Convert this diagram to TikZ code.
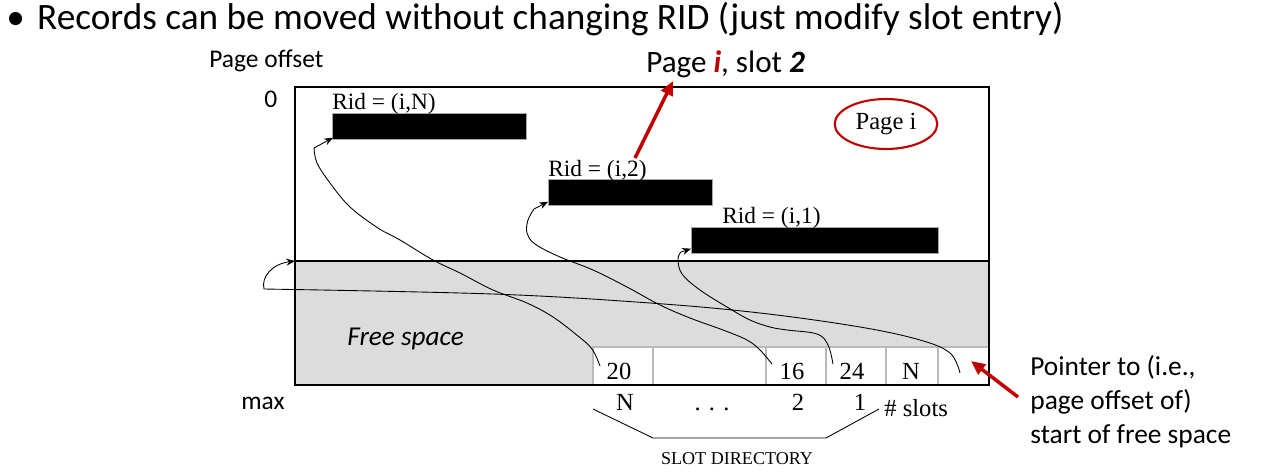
\documentclass[tikz,border=0pt]{standalone}
\usepackage{fontspec}
\setmainfont{Carlito}
\newfontfamily\bookfont{Liberation Serif}
\usetikzlibrary{arrows.meta,shapes.geometric}
\definecolor{darkred}{RGB}{192,0,0}
\definecolor{freegray}{RGB}{220,220,220}
\tikzset{
  rid/.style={font=\bookfont\fontsize{13.3}{15}\selectfont, inner sep=0pt, anchor=base west},
  record/.style={fill=black, draw=gray!70, inner sep=0pt, anchor=north west, minimum height=0.52cm},
  cell/.style={draw=gray!55, fill=white, line width=0.6pt},
  slotnum/.style={font=\bookfont\fontsize{14}{16}\selectfont, inner sep=0pt, anchor=base},
  ptr/.style={line width=0.5pt, -{Stealth[length=5pt,width=4pt]}},
  redptr/.style={darkred, line width=2pt, -{Triangle[length=8pt,width=7pt]}},
  callout/.style={inner sep=0pt, anchor=base west}
}
\begin{document}
\begin{tikzpicture}[x=0.02cm, y=-0.02cm]
    \useasboundingbox (0,0) rectangle (1270,474);

    \node [callout, font=\fontsize{21.2}{23}\selectfont] (head) at (6,29)
        {•\hspace{0.33em}Records can be moved without changing RID (just modify slot entry)};

    % page layout
    \fill [freegray] (295,261) rectangle (989,385);
    \draw [line width=0.6pt] (295,261) -- (989,261);
    \coordinate (freetop) at (295,261);

    \node [callout, font=\fontsize{14.5}{16}\selectfont] (offset) at (209,67) {Page offset};
    \node [callout, font=\fontsize{14.5}{16}\selectfont] (zero) at (264,107) {0};
    \node [callout, font=\fontsize{14.5}{16}\selectfont] (max) at (241,409) {max};
    \node [callout, font=\itshape\fontsize{15.5}{17}\selectfont] (free) at (347,345) {Free space};

    % records
    \node [record, minimum width=3.88cm] (recN) at (332,113) {};
    \node [rid] (ridN) at (332,109) {Rid = (i,N)};
    \node [record, minimum width=3.28cm] (rec2) at (548,179) {};
    \node [rid] (rid2) at (548,176) {Rid = (i,2)};
    \node [record, minimum width=4.94cm] (rec1) at (691,227) {};
    \node [rid] (rid1) at (722,223) {Rid = (i,1)};

    \node [ellipse, draw=darkred, line width=1.2pt, minimum width=2cm, minimum height=1cm,
           font=\bookfont\fontsize{14}{16}\selectfont] (pagei) at (886,124) {Page i};

    % slot directory
    \draw [cell] (593,347) rectangle (653,385);
    \draw [cell] (653,347) rectangle (766,385);
    \draw [cell] (766,347) rectangle (826,385);
    \draw [cell] (826,347) rectangle (886,385);
    \draw [cell] (886,347) rectangle (938,385);
    \draw [cell] (938,347) rectangle (989,385);
    \draw [line width=1.1pt] (295,87) rectangle (989,385);

    \node [slotnum] (s20) at (619,379) {20};
    \node [slotnum] (s16) at (792,379) {16};
    \node [slotnum] (s24) at (852,379) {24};
    \node [slotnum] (sN) at (911,379) {N};

    \node [slotnum] (iN) at (625,410) {N};
    \node [slotnum] (idots) at (712,410) {.\,\,.\,\,.};
    \node [slotnum] (i2) at (798,410) {2};
    \node [slotnum] (i1) at (860,410) {1};
    \node [slotnum, anchor=base west] (nslots) at (884,416) {\# slots};

    \coordinate (braceL) at (593,409);
    \coordinate (braceR) at (879,409);
    \draw [line width=0.5pt] (braceL) -- (653,438) -- (826,438) -- (braceR);
    \node [slotnum, font=\bookfont\fontsize{10.3}{12}\selectfont] (dir) at (737,464) {SLOT DIRECTORY};

    % slot pointers
    \coordinate (c20) at (600,366);
    \coordinate (c16) at (772,364);
    \coordinate (c24) at (833,364);
    \coordinate (cfree) at (960,373);
    \draw [ptr] plot [smooth, tension=0.6] coordinates {(c20) (592,349) (578,336) (553,317) (527,303)
        (493,290) (460,273) (433,260) (400,240) (378,228) (350,207) (330,183) (317,163) (314,148)}
        -- ([xshift=0.02cm, yshift=0.04cm]recN.south west);
    \draw [ptr] plot [smooth, tension=0.6] coordinates {(c16) (760,350) (747,340) (723,330) (690,318)
        (660,305) (627,287) (593,270) (560,257) (535,244) (527,233) (528,220) (534,209)}
        -- ([yshift=0.08cm]rec2.south west);
    \draw [ptr] plot [smooth, tension=0.6] coordinates {(c24) (828,345) (817,334) (787,330) (770,327)
        (750,320) (727,307) (700,290) (682,274) (678,259) (681,252)}
        -- ([yshift=0.1cm]rec1.south west);
    \draw [ptr] plot [smooth, tension=0.6] coordinates {(cfree) (950,353) (920,340) (860,327) (760,313)
        (650,303) (493,294) (264,289)} .. controls (261,277) and (272,264) .. (freetop);

    % red call-outs
    \node [callout, font=\fontsize{17.7}{19}\selectfont] (slot2) at (646,72)
        {Page \textcolor{darkred}{\textbf{\textit{i}}}, slot \textbf{\textit{2}}};
    \coordinate (slot2tail) at (635,158);
    \coordinate (slot2head) at (673,81);
    \draw [redptr] (slot2tail) -- (slot2head);

    \node [inner sep=0pt, anchor=north west, align=left, font=\fontsize{15.6}{19.4}\selectfont] (note) at (1030,355)
        {Pointer to (i.e.,\\page offset of)\\start of free space};
    \coordinate (notetail) at (1018,397);
    \coordinate (notehead) at (971,361);
    \draw [redptr] (notetail) -- (notehead);
\end{tikzpicture}
\end{document}
